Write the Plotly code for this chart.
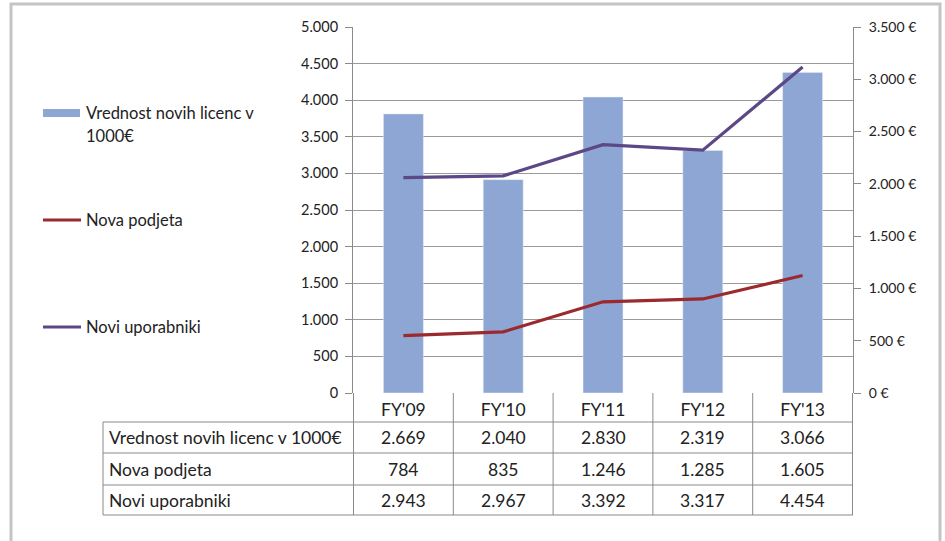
import plotly.graph_objects as go

# data
years = ["FY'09", "FY'10", "FY'11", "FY'12", "FY'13"]
licence_value = [2669, 2040, 2830, 2319, 3066]   # v 1000 €
new_companies = [784, 835, 1246, 1285, 1605]
new_users = [2943, 2967, 3392, 3317, 4454]

row_names = ['Vrednost novih licenc v 1000€', 'Nova podjeta', 'Novi uporabniki']
rows = [licence_value, new_companies, new_users]

bar_color = '#8ea6d4'
red = '#9a2a2e'
purple = '#5c4787'
grid = '#9a9a9a'
axis_col = '#8a8a8a'
txt = '#222222'
font = 'Lato, "Open Sans", sans-serif'

W, H = 945, 541
# plot area in pixels
px_l, px_r, px_t, px_b = 353, 853, 27, 393


def py(y):
    # pixel row -> paper y
    return 1 - y / H


fig = go.Figure()

# bars on the € axis (primary, drawn first so lines sit on top)
fig.add_trace(go.Bar(
    x=years, y=licence_value, yaxis='y',
    marker_color=bar_color, name='Vrednost novih licenc v 1000€',
))
# lines on the count axis (left)
fig.add_trace(go.Scatter(
    x=years, y=new_companies, mode='lines', yaxis='y2',
    line=dict(color=red, width=3.2), name='Nova podjeta',
))
fig.add_trace(go.Scatter(
    x=years, y=new_users, mode='lines', yaxis='y2',
    line=dict(color=purple, width=3.2), name='Novi uporabniki',
))

shapes = []
ann = []

# outer frame
shapes.append(dict(type='rect', xref='paper', yref='paper',
                   x0=11 / W, x1=940 / W, y0=py(548), y1=py(4),
                   line=dict(color='#c4c4c4', width=3)))

# legend (drawn by hand to keep Excel-like spacing)
shapes.append(dict(type='rect', xref='paper', yref='paper',
                   x0=43 / W, x1=80 / W, y0=py(117), y1=py(109),
                   line=dict(width=0), fillcolor=bar_color))
for yl, c in [(220, red), (327, purple)]:
    shapes.append(dict(type='line', xref='paper', yref='paper',
                       x0=43 / W, x1=81 / W, y0=py(yl), y1=py(yl),
                       line=dict(color=c, width=3.2)))
legend_text = [('Vrednost novih licenc v', 113), ('1000€', 136),
               ('Nova podjeta', 220), ('Novi uporabniki', 327)]
for t, yl in legend_text:
    ann.append(dict(text=t, xref='paper', yref='paper', x=84 / W, y=py(yl),
                    xanchor='left', yanchor='middle', showarrow=False,
                    font=dict(size=16.5, color=txt)))

# table grid
row_lines = [422, 453, 485, 515]
for yl in row_lines:
    shapes.append(dict(type='line', xref='paper', yref='paper',
                       x0=103 / W, x1=px_r / W, y0=py(yl), y1=py(yl),
                       line=dict(color=axis_col, width=1)))
shapes.append(dict(type='line', xref='paper', yref='paper',
                   x0=103 / W, x1=103 / W, y0=py(422), y1=py(515),
                   line=dict(color=axis_col, width=1)))
for i in range(len(years) + 1):
    shapes.append(dict(type='line', xref='x', yref='paper',
                       x0=i - 0.5, x1=i - 0.5, y0=py(px_b), y1=py(515),
                       line=dict(color=axis_col, width=1)))

# table text
for r, (label, vals) in enumerate(zip(row_names, rows)):
    yc = (row_lines[r] + row_lines[r + 1]) / 2
    ann.append(dict(text=label, xref='paper', yref='paper',
                    x=107 / W, y=py(yc), xanchor='left', yanchor='middle',
                    showarrow=False, font=dict(size=17.5, color=txt)))
    for yr, v in zip(years, vals):
        ann.append(dict(text=f'{v:,}'.replace(',', '.'), xref='x', yref='paper',
                        x=yr, y=py(yc), xanchor='center', yanchor='middle',
                        showarrow=False, font=dict(size=17.5, color=txt)))

fig.update_layout(
    width=W, height=H,
    margin=dict(l=0, r=0, t=0, b=0, pad=0),
    paper_bgcolor='white', plot_bgcolor='white',
    font=dict(family=font, color=txt),
    separators=',.',
    bargap=0.6,
    showlegend=False,
    xaxis=dict(domain=[px_l / W, px_r / W], showgrid=False, automargin=False,
               showline=False, ticks='', tickfont=dict(size=17.5, color=txt),
               ticklabelstandoff=4, fixedrange=True),
    yaxis=dict(domain=[py(px_b), py(px_t)], side='right', range=[0, 3500],
               dtick=500, tickformat=',d', ticksuffix=' €', showgrid=False,
               automargin=False, showline=True, linecolor=axis_col,
               ticks='outside', ticklen=7, tickcolor=axis_col,
               tickfont=dict(size=14), zeroline=False, ticklabelstandoff=5),
    yaxis2=dict(overlaying='y', side='left', range=[0, 5000], dtick=500,
                tickformat=',d', showgrid=True, gridcolor=grid, gridwidth=1,
                automargin=False, showline=True, linecolor=axis_col,
                ticks='outside', ticklen=7, tickcolor=axis_col,
                tickfont=dict(size=14.5), zeroline=False, ticklabelstandoff=4),
    shapes=shapes,
    annotations=ann,
)

# drop the browser's default body margin so the figure sits at (0, 0)
fig.write_html('out.html', config={'displayModeBar': False},
               post_script="document.body.style.margin = '0';")
